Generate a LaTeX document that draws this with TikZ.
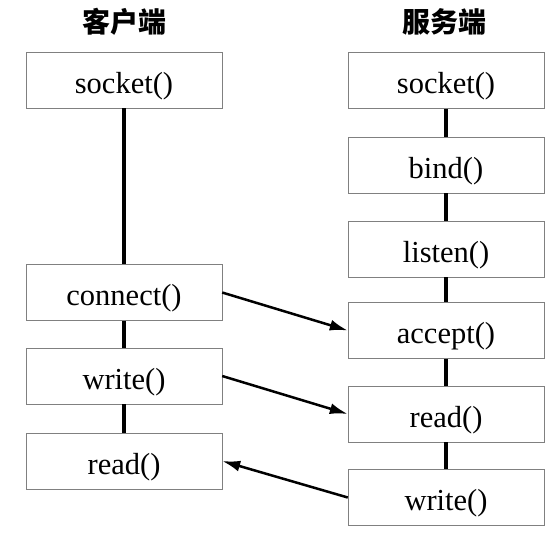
\documentclass[tikz,border=0pt]{standalone}
\usepackage{fontspec}
\setmainfont{Liberation Serif}
\newfontfamily\cjk{Noto Sans CJK SC}
\usepackage{tikz}
\usetikzlibrary{positioning,arrows.meta}
\tikzset{
call/.style={rectangle, draw=gray, thin, minimum width=196pt, minimum height=56pt,
                     inner sep=0pt, text height=26pt, text depth=0pt,
                     font=\fontsize{30.5}{36}\selectfont},
title/.style={font=\cjk\bfseries\fontsize{28}{32}\selectfont},
link/.style={line width=3.5pt},
>={Latex[width=11pt,length=18pt]},
msg/.style={->, line width=2.5pt},
}
\begin{document}
\begin{tikzpicture}[x=1pt, y=1pt, align=center]

    \useasboundingbox (0,0) rectangle (559,-536);

    \node[title] (tc) at(124, -22)  {客户端};
    \node[title] (ts) at(444, -22)  {服务端};

    \node[call] (c0) at(124, -80)  {socket()};
    \node[call] (c1) at(124, -292.5)  {connect()};
    \node[call] (c2) at(124, -376)  {write()};
    \node[call] (c3) at(124, -461)  {read()};

    \node[call] (s0) at(446, -80.5)  {socket()};
    \node[call] (s1) at(446, -165)  {bind()};
    \node[call] (s2) at(446, -249)  {listen()};
    \node[call] (s3) at(446, -330.5)  {accept()};
    \node[call] (s4) at(446, -414)  {read()};
    \node[call] (s5) at(446, -497.5)  {write()};

    \draw[link] (c0) -- (c1) ;
    \draw[link] (c1) -- (c2) ;
    \draw[link] (c2) -- (c3) ;

    \draw[link] (s0) -- (s1) ;
    \draw[link] (s1) -- (s2) ;
    \draw[link] (s2) -- (s3) ;
    \draw[link] (s3) -- (s4) ;
    \draw[link] (s4) -- (s5) ;

    \draw[msg] (c1.east)  to (s3.west) ;
    \draw[msg] (c2.east)  to (s4.west) ;
    \draw[msg] (s5.west)  to (c3.east) ;

\end{tikzpicture}
\end{document}
